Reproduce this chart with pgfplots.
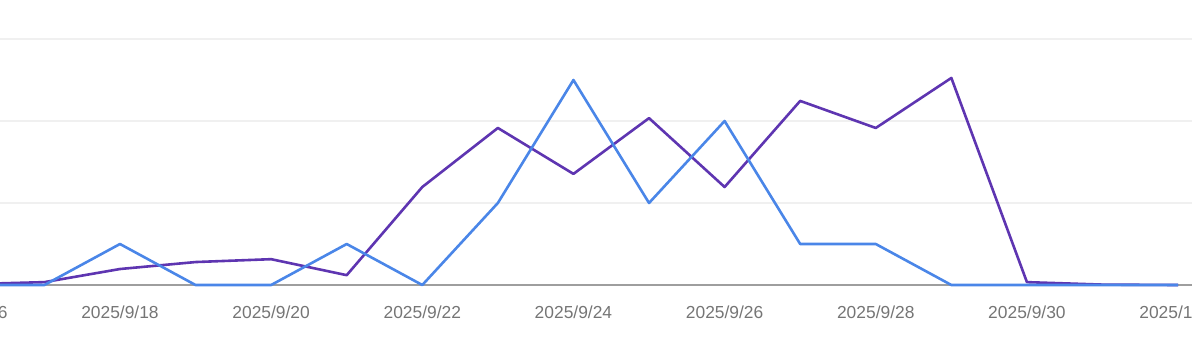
\documentclass[border=0pt]{standalone}
\usepackage{pgfplots}
\pgfplotsset{compat=1.18}
\usepackage{fontspec}
\setmainfont{Liberation Sans}
\definecolor{cblue}{HTML}{4A86E8}
\definecolor{cpurple}{HTML}{5E35B1}
\definecolor{tickgray}{HTML}{757575}
\definecolor{gridgray}{HTML}{F0F0F0}
\definecolor{basegray}{HTML}{9E9E9E}
\begin{document}
\begin{tikzpicture}
\useasboundingbox (0,0) rectangle (596pt,172.5pt);
\clip (0,0) rectangle (596pt,172.5pt);
\begin{axis}[
  anchor=origin, at={(-15.6pt,30pt)},
  x=37.79pt, y=20.5pt,
  xmin=-1, xmax=17, ymin=-1.6, ymax=7.5,
  axis lines=none,
  clip=false,
]
\foreach \yy in {2,4,6} {
  \edef\tmp{\noexpand\draw[gridgray, line width=0.6pt] (axis cs:-1,\yy) -- (axis cs:17,\yy);}
  \tmp
}
\draw[basegray, line width=0.7pt] (axis cs:-1,0) -- (axis cs:17,0);
\node[font=\fontsize{8.7}{10}\selectfont, text=tickgray, anchor=base, inner sep=0pt] at (axis cs:0,-0.805) {2025/9/16};
\node[font=\fontsize{8.7}{10}\selectfont, text=tickgray, anchor=base, inner sep=0pt] at (axis cs:2,-0.805) {2025/9/18};
\node[font=\fontsize{8.7}{10}\selectfont, text=tickgray, anchor=base, inner sep=0pt] at (axis cs:4,-0.805) {2025/9/20};
\node[font=\fontsize{8.7}{10}\selectfont, text=tickgray, anchor=base, inner sep=0pt] at (axis cs:6,-0.805) {2025/9/22};
\node[font=\fontsize{8.7}{10}\selectfont, text=tickgray, anchor=base, inner sep=0pt] at (axis cs:8,-0.805) {2025/9/24};
\node[font=\fontsize{8.7}{10}\selectfont, text=tickgray, anchor=base, inner sep=0pt] at (axis cs:10,-0.805) {2025/9/26};
\node[font=\fontsize{8.7}{10}\selectfont, text=tickgray, anchor=base, inner sep=0pt] at (axis cs:12,-0.805) {2025/9/28};
\node[font=\fontsize{8.7}{10}\selectfont, text=tickgray, anchor=base, inner sep=0pt] at (axis cs:14,-0.805) {2025/9/30};
\node[font=\fontsize{8.7}{10}\selectfont, text=tickgray, anchor=base, inner sep=0pt] at (axis cs:16,-0.805) {2025/10/2};
\addplot[cpurple, line width=1.3pt, line join=round] coordinates {
(0,0.02) (1,0.07) (2,0.39) (3,0.56) (4,0.63) (5,0.24) (6,2.39) (7,3.83)
(8,2.71) (9,4.07) (10,2.39) (11,4.49) (12,3.83) (13,5.05) (14,0.07) (15,0.01) (16,0.0)
};
\addplot[cblue, line width=1.3pt, line join=round] coordinates {
(0,0) (1,0) (2,1) (3,0) (4,0) (5,1) (6,0) (7,2) (8,5) (9,2) (10,4) (11,1) (12,1) (13,0) (14,0) (15,0) (16,0)
};
\end{axis}
\end{tikzpicture}
\end{document}
